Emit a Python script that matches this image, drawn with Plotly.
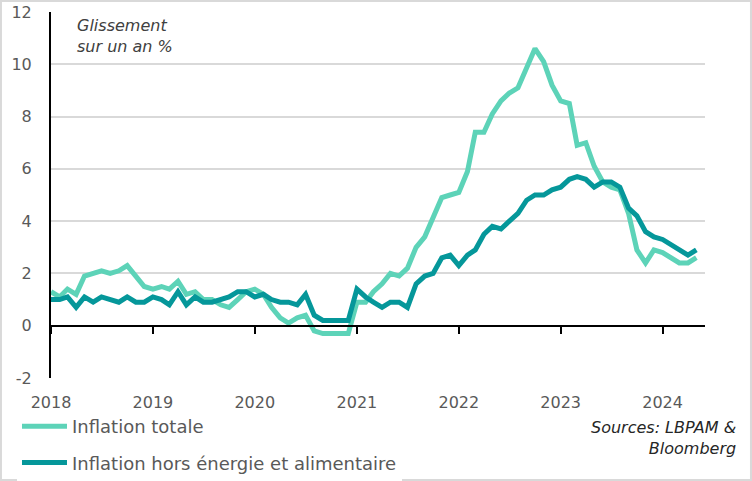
import pandas as pd
import plotly.graph_objects as go

# mois de janvier 2018 à mai 2024
dates = pd.date_range("2018-01-01", "2024-05-01", freq="MS")

inflation_totale = [
    1.3, 1.1, 1.4, 1.2, 1.9, 2.0, 2.1, 2.0, 2.1, 2.3, 1.9, 1.5,   # 2018
    1.4, 1.5, 1.4, 1.7, 1.2, 1.3, 1.0, 1.0, 0.8, 0.7, 1.0, 1.3,   # 2019
    1.4, 1.2, 0.7, 0.3, 0.1, 0.3, 0.4, -0.2, -0.3, -0.3, -0.3, -0.3,  # 2020
    0.9, 0.9, 1.3, 1.6, 2.0, 1.9, 2.2, 3.0, 3.4, 4.1, 4.9, 5.0,   # 2021
    5.1, 5.9, 7.4, 7.4, 8.1, 8.6, 8.9, 9.1, 9.9, 10.6, 10.1, 9.2,  # 2022
    8.6, 8.5, 6.9, 7.0, 6.1, 5.5, 5.3, 5.2, 4.3, 2.9, 2.4, 2.9,   # 2023
    2.8, 2.6, 2.4, 2.4, 2.6,                                      # 2024
]

inflation_sous_jacente = [
    1.0, 1.0, 1.1, 0.7, 1.1, 0.9, 1.1, 1.0, 0.9, 1.1, 0.9, 0.9,   # 2018
    1.1, 1.0, 0.8, 1.3, 0.8, 1.1, 0.9, 0.9, 1.0, 1.1, 1.3, 1.3,   # 2019
    1.1, 1.2, 1.0, 0.9, 0.9, 0.8, 1.2, 0.4, 0.2, 0.2, 0.2, 0.2,   # 2020
    1.4, 1.1, 0.9, 0.7, 0.9, 0.9, 0.7, 1.6, 1.9, 2.0, 2.6, 2.7,   # 2021
    2.3, 2.7, 2.9, 3.5, 3.8, 3.7, 4.0, 4.3, 4.8, 5.0, 5.0, 5.2,   # 2022
    5.3, 5.6, 5.7, 5.6, 5.3, 5.5, 5.5, 5.3, 4.5, 4.2, 3.6, 3.4,   # 2023
    3.3, 3.1, 2.9, 2.7, 2.9,                                      # 2024
]

y_ticks = [-2, 0, 2, 4, 6, 8, 10, 12]
y_labels = ["-2", "0", "2", "4", "6", "8", "10", "12"]

VERT_CLAIR = "#5dd3b8"
VERT_FONCE = "#05979a"
GRIS = "#595959"
POLICE = "DejaVu Sans"

fig = go.Figure()

fig.add_trace(go.Scatter(
    x=dates, y=inflation_totale,
    mode="lines", name="Inflation totale",
    line=dict(color=VERT_CLAIR, width=5),
    legendgroup="a",
))
# sur l'axe x2 (même plage) : dessinée au-dessus et fait apparaître l'axe du zéro
fig.add_trace(go.Scatter(
    x=dates, y=inflation_sous_jacente,
    mode="lines", name="Inflation hors énergie et alimentaire",
    line=dict(color=VERT_FONCE, width=5),
    legendgroup="b", xaxis="x2",
))

plage_x = ["2018-01-01", "2024-06-01"]

fig.update_layout(
    width=752, height=481,
    margin=dict(l=51, r=47, t=12, b=103, autoexpand=False),
    paper_bgcolor="white", plot_bgcolor="white",
    font=dict(family=POLICE, color=GRIS, size=16),
    showlegend=True,
    legend=dict(
        x=-0.052, y=-0.082, xanchor="left", yanchor="top",
        orientation="v", tracegroupgap=10,
        font=dict(size=18, color=GRIS),
        itemwidth=45,
    ),
    xaxis=dict(
        type="date", range=plage_x,
        dtick="M12", tick0="2018-01-01", tickformat="%Y",
        showgrid=False, showline=False, zeroline=False,
        ticks="", ticklabelstandoff=13,
        tickfont=dict(size=16, color=GRIS),
    ),
    # axe horizontal noir sur la ligne du zéro, avec graduations annuelles
    xaxis2=dict(
        type="date", range=plage_x, overlaying="x",
        anchor="free", position=2 / 14,
        dtick="M12", tick0="2018-01-01",
        showgrid=False, zeroline=False,
        showline=True, linecolor="black", linewidth=2,
        ticks="outside", ticklen=7, tickwidth=2, tickcolor="black",
        showticklabels=False,
    ),
    yaxis=dict(
        range=[-2, 12], tickvals=y_ticks, ticktext=y_labels,
        showgrid=True, gridcolor="#d9d9d9", gridwidth=1.5,
        zeroline=False,
        showline=True, linecolor="black", linewidth=2,
        ticks="", ticklabelstandoff=14,
        tickfont=dict(size=16, color=GRIS),
    ),
)

fig.add_annotation(
    text="<i>Glissement<br>sur un an %</i>",
    xref="paper", yref="paper", x=0.036, y=0.995,
    xanchor="left", yanchor="top", align="left", showarrow=False,
    font=dict(size=16, color="#404040"),
)
fig.add_annotation(
    text="<i>Sources: LBPAM &<br>Bloomberg</i>",
    xref="paper", yref="paper", x=1.05, y=-0.103,
    xanchor="right", yanchor="top", align="right", showarrow=False,
    font=dict(size=16, color="#262626"),
)

# cadre gris autour de l'image
fig.add_shape(
    type="rect", xref="paper", yref="paper",
    x0=-0.0765, x1=1.0703, y0=-0.2787, y1=1.03,
    line=dict(color="#d9d9d9", width=2), layer="below",
)

# pas de marge autour du graphique dans la page, pas de barre d'outils
fig.write_html(
    "out.html",
    config={"displayModeBar": False},
    post_script="document.body.style.margin='0';",
)
